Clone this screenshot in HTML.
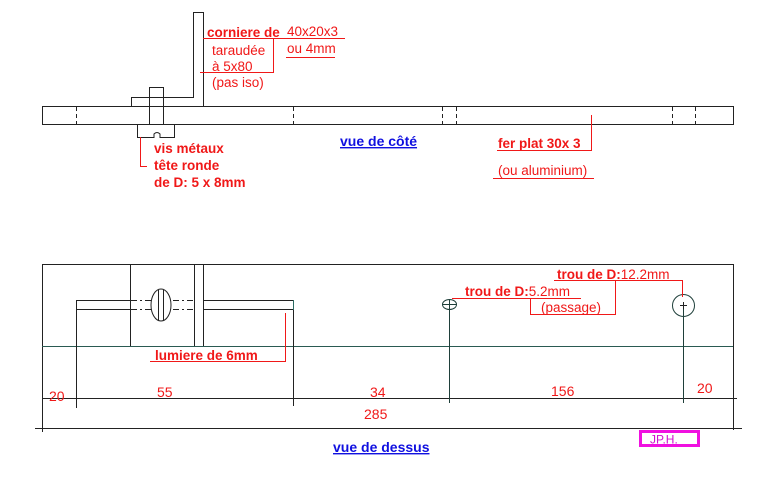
<!DOCTYPE html>
<html><head><meta charset="utf-8"><style>
html,body{margin:0;padding:0;background:#fff;}
svg{display:block;}
text{font-family:"Liberation Sans",Arial,sans-serif;}
.r{fill:#f01818;font-size:13.5px;}
.rb{fill:#f01818;font-size:13.5px;font-weight:bold;}
.b{fill:#1010e0;font-size:14px;font-weight:bold;}
.n{fill:#f01818;font-size:14px;}
</style></head><body>
<svg width="765" height="488" viewBox="0 0 765 488" xmlns="http://www.w3.org/2000/svg">
<g fill="none" stroke="#222" stroke-width="1">
<rect x="42.5" y="106.5" width="691" height="18"/>
<g stroke-dasharray="4,3">
<line x1="76.5" y1="107" x2="76.5" y2="124"/>
<line x1="293.5" y1="107" x2="293.5" y2="124"/>
<line x1="442.5" y1="107" x2="442.5" y2="124"/>
<line x1="456.5" y1="107" x2="456.5" y2="124"/>
<line x1="672.5" y1="107" x2="672.5" y2="124"/>
<line x1="695.5" y1="107" x2="695.5" y2="124"/>
</g>
<polyline points="131.5,106 131.5,97.5 193.5,97.5 193.5,12.5 203.5,12.5 203.5,106"/>
<rect x="149.5" y="87.5" width="14" height="37"/>
<path d="M137.5,124.5 V137.5 H154 V134 Q157,131 160,134 V137.5 H174.5 V124.5"/>
<line x1="42.5" y1="264.5" x2="733.5" y2="264.5"/>
<line x1="42.5" y1="264" x2="42.5" y2="432"/>
<line x1="733.5" y1="264" x2="733.5" y2="430"/>
<line x1="42" y1="346.5" x2="733" y2="346.5" stroke="#2a5a52"/>
<line x1="42" y1="398.5" x2="737" y2="398.5"/>
<line x1="35" y1="428.5" x2="742" y2="428.5"/>
<line x1="130.5" y1="264" x2="130.5" y2="346"/>
<line x1="194.5" y1="264" x2="194.5" y2="346"/>
<line x1="203.5" y1="264" x2="203.5" y2="346"/>
<polyline points="76.5,309 76.5,300.5 130,300.5"/>
<line x1="76" y1="309.5" x2="130" y2="309.5"/>
<line x1="203" y1="300.5" x2="293" y2="300.5"/>
<line x1="203" y1="309.5" x2="293" y2="309.5"/>
<line x1="293.5" y1="300" x2="293.5" y2="310" stroke="#2a6a62"/>
<g stroke-dasharray="6,3,2,3">
<line x1="131" y1="300.5" x2="194" y2="300.5"/>
<line x1="131" y1="309.5" x2="194" y2="309.5"/>
</g>
<ellipse cx="161" cy="305" rx="10" ry="16" fill="#fff"/>
<line x1="158.5" y1="290" x2="158.5" y2="320"/>
<line x1="163.5" y1="290" x2="163.5" y2="320"/>
<line x1="76.5" y1="309" x2="76.5" y2="408"/>
<line x1="293.5" y1="310" x2="293.5" y2="406"/>
<line x1="449.5" y1="300" x2="449.5" y2="403" stroke="#1f3f3a"/>
<line x1="683.5" y1="305" x2="683.5" y2="403" stroke="#1f3f3a"/>
<ellipse cx="449.5" cy="304.5" rx="7" ry="5" stroke="#1f3f3a"/>
<line x1="442" y1="304.5" x2="457" y2="304.5" stroke="#1f3f3a"/>
<circle cx="683.5" cy="305.5" r="11" stroke="#1f3f3a"/>
<line x1="680" y1="305.5" x2="687" y2="305.5"/>
<line x1="683.5" y1="302" x2="683.5" y2="309"/>
</g>
<g fill="none" stroke="#f01818" stroke-width="1">
<line x1="203" y1="38.5" x2="345" y2="38.5"/>
<polyline points="200,72.5 273.5,72.5 273.5,38"/>
<line x1="286" y1="57.5" x2="335" y2="57.5"/>
<polyline points="140.5,137 140.5,166.5 147,166.5"/>
<polyline points="591.5,115 591.5,150.5 497,150.5"/>
<line x1="493" y1="178.5" x2="594" y2="178.5"/>
<polyline points="285.5,313 285.5,361.5 150,361.5"/>
<line x1="452" y1="298.5" x2="581" y2="298.5"/>
<polyline points="530.5,298 530.5,314.5 615.5,314.5 615.5,280"/>
<polyline points="554,280.5 682.5,280.5 682.5,297"/>
</g>
<text x="207" y="37" class="rb">corniere de</text>
<text x="287" y="36" class="r">40x20x3</text>
<text x="212" y="55" class="r">taraudée</text>
<text x="287" y="53" class="r">ou 4mm</text>
<text x="212" y="71" class="r">à 5x80</text>
<text x="212" y="87" class="r">(pas iso)</text>
<text x="154" y="153" class="rb">vis métaux</text>
<text x="154" y="170" class="rb">tête ronde</text>
<text x="154" y="187" class="rb">de D: 5 x 8mm</text>
<text x="340" y="146" class="b" text-decoration="underline">vue de côté</text>
<text x="498" y="148" class="rb">fer plat 30x 3</text>
<text x="498" y="175" class="r">(ou aluminium)</text>
<text x="155" y="360" class="rb">lumiere de 6mm</text>
<text x="465" y="296" class="rb">trou de D:<tspan font-weight="normal">5.2mm</tspan></text>
<text x="541" y="312" class="r">(passage)</text>
<text x="557" y="279" class="rb">trou de D:<tspan font-weight="normal">12.2mm</tspan></text>
<text x="49" y="401" class="n">20</text>
<text x="157" y="397" class="n">55</text>
<text x="370" y="397" class="n">34</text>
<text x="551" y="396" class="n">156</text>
<text x="697" y="393" class="n">20</text>
<text x="364" y="419" class="n">285</text>
<text x="333" y="452" class="b" text-decoration="underline">vue de dessus</text>
<rect x="640.5" y="431.5" width="58" height="14" fill="none" stroke="#f010e0" stroke-width="3"/>
<text x="650" y="443.5" fill="#d010d0" font-size="12">JP.H.</text>
</svg>
</body></html>
